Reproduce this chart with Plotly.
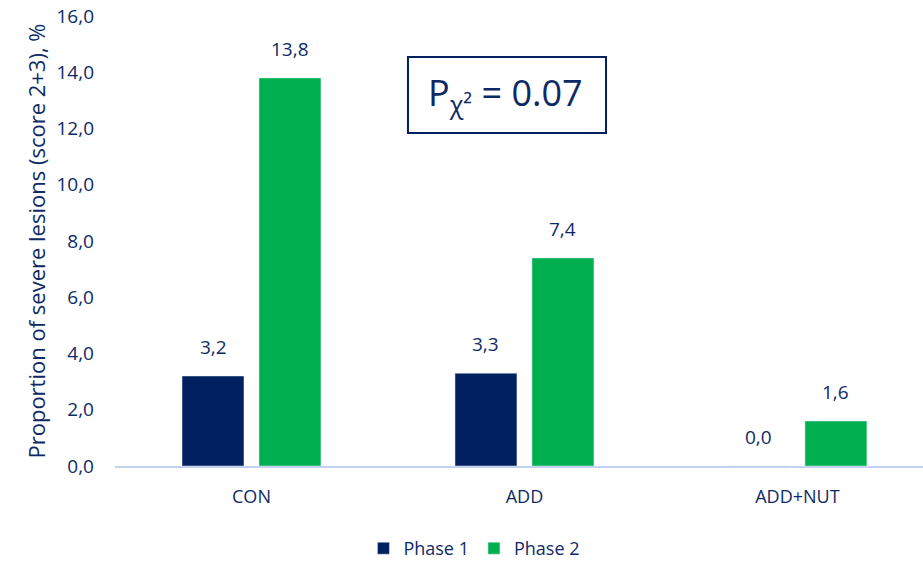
import plotly.graph_objects as go

# Proportion of severe lesions per treatment group and phase
groups = ["CON", "ADD", "ADD+NUT"]
phase1 = [3.2, 3.3, 0.0]
phase2 = [13.8, 7.4, 1.6]
y_ticks = [0, 2, 4, 6, 8, 10, 12, 14, 16]

NAVY = "#002060"
GREEN = "#00B050"
TEXT = "#0E2A66"
FONT = "Open Sans"

fig = go.Figure()
fig.add_trace(go.Bar(name="Phase 1", x=groups, y=phase1, marker_color=NAVY))
fig.add_trace(go.Bar(name="Phase 2", x=groups, y=phase2, marker_color=GREEN))

# value labels above each bar (slot offset follows bargap/bargroupgap below)
bargap = 0.436
slot = (1 - bargap) / 2
for series, off in ((phase1, -slot / 2), (phase2, slot / 2)):
    for i, v in enumerate(series):
        fig.add_annotation(
            x=i + off, y=v, xref="x", yref="y",
            text=f"{v:.1f}".replace(".", ","),
            showarrow=False, yanchor="middle", yshift=29,
            font=dict(family=FONT, size=19, color=TEXT),
        )

# chi-square p-value box
fig.add_shape(
    type="rect", xref="paper", yref="paper",
    x0=0.3626, x1=0.6077, y0=0.74, y1=0.909,
    line=dict(color=NAVY, width=2), fillcolor="white",
)
fig.add_annotation(
    x=0.483, y=0.825, xref="paper", yref="paper",
    text="P<sub>χ²</sub> = 0.07", showarrow=False,
    xanchor="center", yanchor="middle",
    font=dict(family=FONT, size=36, color=TEXT),
)

fig.update_layout(
    width=923, height=562,
    margin=dict(l=115, r=0, t=16, b=96, autoexpand=False),
    paper_bgcolor="white", plot_bgcolor="white",
    barmode="group", bargap=bargap, bargroupgap=0.195,
    separators=",.",
    font=dict(family=FONT, color=TEXT, size=18),
    showlegend=True,
    legend=dict(
        orientation="h", xref="container", yref="container",
        x=0.514, xanchor="center", y=0.024, yanchor="middle",
        font=dict(family=FONT, size=18, color=TEXT), itemwidth=30,
    ),
)
fig.update_xaxes(
    range=[-0.5, 2.46], showline=True, linecolor="#C3D2F0", linewidth=2,
    showgrid=False, ticks="", ticklabelstandoff=13,
    tickfont=dict(family=FONT, size=18, color=TEXT),
)
fig.update_yaxes(
    range=[0, 16], tickvals=y_ticks, tickformat=".1f",
    showgrid=False, zeroline=False, showline=False, ticks="",
    ticklabelstandoff=20,
    tickfont=dict(family=FONT, size=19, color=TEXT),
    title=dict(text="Proportion of severe lesions (score 2+3), %",
               font=dict(family=FONT, size=22, color=TEXT), standoff=4),
)

fig.write_html("out.html")
